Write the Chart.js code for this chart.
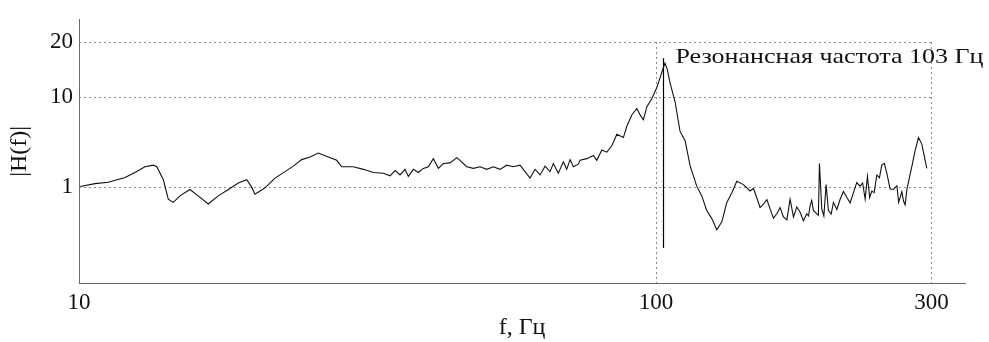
<!DOCTYPE html>
<html>
<head>
<meta charset="utf-8">
<script src="https://cdn.jsdelivr.net/npm/chart.js@4.4.1/dist/chart.umd.min.js"></script>
<style>
    body { margin: 0; background: #fff; }
    #wrap { width: 989px; height: 342px; }
</style>
</head>
<body>
<div id="wrap"><canvas id="hChart"></canvas></div>
<script>
/* ===========================================
   DATA
   =========================================== */

// frequency, Hz
const freq = [
    10.05, 10.66, 11.24, 12.02, 12.50, 13.01, 13.45, 13.64, 14.00, 14.28,
    14.57, 14.96, 15.57, 16.09, 16.75, 17.43, 18.15, 18.88, 19.52, 19.87,
    20.18, 21.01, 21.86, 22.75, 23.51, 24.32, 25.14, 25.98, 27.04, 27.96,
    28.53, 29.88, 31.10, 32.37, 33.69, 34.60, 35.30, 36.00, 36.73, 37.21,
    37.97, 38.73, 39.51, 40.31, 41.11, 41.95, 42.79, 43.95, 45.14, 45.74,
    46.97, 48.23, 49.55, 50.89, 52.24, 53.65, 55.10, 56.57, 58.10, 59.29,
    60.47, 61.70, 62.95, 64.21, 65.51, 66.37, 67.71, 69.06, 70.00, 70.96,
    71.89, 73.33, 73.85, 75.85, 77.87, 78.93, 80.53, 82.16, 83.81, 85.50,
    87.77, 88.97, 90.77, 92.61, 93.83, 95.06, 96.36, 98.29, 100.3, 101.6,
    102.9, 103.6, 104.6, 105.7, 107.9, 110.0, 112.3, 114.5, 117.6, 120.0,
    122.4, 124.9, 127.4, 130.0, 132.6, 135.3, 138.0, 141.7, 145.5, 147.5,
    149.4, 151.4, 153.5, 155.6, 157.6, 159.7, 161.9, 164.0, 166.2, 168.5,
    170.7, 173.0, 175.3, 177.6, 180.0, 182.4, 183.7, 184.9, 186.1, 187.3,
    188.6, 191.1, 191.9, 193.7, 195.3, 197.1, 198.9, 201.1, 202.9, 205.7,
    208.4, 211.2, 214.1, 216.9, 219.8, 222.7, 225.7, 228.0, 230.3, 232.4,
    234.5, 236.5, 238.7, 241.3, 243.8, 246.1, 248.6, 251.1, 254.4, 257.8,
    261.4, 263.2, 264.8, 266.6, 268.3, 270.1, 272.0, 277.4, 281.1, 284.9,
    288.7, 291.4, 294.5
];

// |H(f)|
const magnitude = [
    1.010, 1.086, 1.125, 1.275, 1.445, 1.679, 1.747, 1.679, 1.200, 0.727,
    0.670, 0.792, 0.935, 0.792, 0.642, 0.792, 0.935, 1.105, 1.200, 1.018,
    0.825, 0.975, 1.253, 1.481, 1.704, 2.016, 2.157, 2.384, 2.157, 1.981,
    1.679, 1.679, 1.569, 1.445, 1.420, 1.327, 1.518, 1.360, 1.569, 1.307,
    1.569, 1.445, 1.609, 1.679, 2.067, 1.609, 1.823, 1.855, 2.119, 1.981,
    1.679, 1.609, 1.679, 1.569, 1.679, 1.569, 1.747, 1.679, 1.747, 1.481,
    1.253, 1.569, 1.360, 1.704, 1.481, 1.823, 1.420, 1.902, 1.569, 2.016,
    1.679, 1.792, 1.981, 2.067, 2.244, 1.981, 2.588, 2.443, 2.883, 3.864,
    3.557, 4.755, 6.373, 7.537, 6.373, 5.623, 7.848, 9.680, 11.33, 12.80,
    14.45, 15.36, 14.17, 12.04, 8.890, 4.197, 3.267, 1.734, 1.018, 0.792,
    0.544, 0.441, 0.330, 0.406, 0.670, 0.861, 1.153, 1.059, 0.898, 0.958,
    0.759, 0.587, 0.642, 0.719, 0.567, 0.447, 0.500, 0.587, 0.460, 0.427,
    0.727, 0.460, 0.596, 0.522, 0.417, 0.500, 0.472, 0.617, 0.705, 0.544,
    0.522, 0.480, 1.823, 0.567, 0.472, 1.059, 0.544, 0.496, 0.670, 0.558,
    0.727, 0.887, 0.759, 0.662, 0.861, 1.114, 1.018, 1.105, 0.727, 1.307,
    0.759, 0.898, 0.861, 1.360, 1.262, 1.747, 1.833, 1.420, 0.944, 0.935,
    1.030, 0.670, 0.759, 0.882, 0.699, 0.629, 0.935, 1.679, 2.544, 3.557,
    3.007, 2.244, 1.609
];

// resonance marker: frequency and the span of the vertical line
const resonanceFreq = 103;
const resonanceSpan = [16.3, 0.207];
const resonanceLabel = 'Резонансная частота 103 Гц';

const xTicks = [10, 100, 300];
const yTicks = [1, 10, 20];
const xRange = [10, 343];
const yRange = [0.084, 26.4];

/* ===========================================
   SCALE: log axis, upper decade drawn wider
   =========================================== */

const UPPER_STRETCH = 2.06;

class StretchedLogScale extends Chart.LogarithmicScale {
    static id = 'stretchedLog';
    static defaults = Chart.LogarithmicScale.defaults;

    _t(v) {
        const l = Math.log10(v);
        return l <= 1 ? l : 1 + (l - 1) * UPPER_STRETCH;
    }
    getPixelForValue(value) {
        if (value === undefined || value <= 0) value = this.min;
        const t0 = this._t(this.min), t1 = this._t(this.max);
        return this.getPixelForDecimal((this._t(value) - t0) / (t1 - t0));
    }
    getValueForPixel(pixel) {
        const t0 = this._t(this.min), t1 = this._t(this.max);
        const t = t0 + this.getDecimalForPixel(pixel) * (t1 - t0);
        return Math.pow(10, t <= 1 ? t : 1 + (t - 1) / UPPER_STRETCH);
    }
}
Chart.register(StretchedLogScale);

/* ===========================================
   PLUGINS
   =========================================== */

// dotted grid, boxed between first tick and last tick
const dottedGrid = {
    id: 'dottedGrid',
    beforeDatasetsDraw(chart) {
        const { ctx, scales: { x, y } } = chart;
        const x0 = x.getPixelForValue(xTicks[0]);
        const x1 = x.getPixelForValue(xTicks[xTicks.length - 1]);
        const yTop = y.getPixelForValue(yTicks[yTicks.length - 1]);
        const yBot = chart.chartArea.bottom;
        ctx.save();
        ctx.strokeStyle = '#8c8c8c';
        ctx.lineWidth = 1;
        ctx.setLineDash([2, 3]);
        yTicks.forEach(v => {
            const py = Math.round(y.getPixelForValue(v)) + 0.5;
            ctx.beginPath();
            ctx.moveTo(x0, py);
            ctx.lineTo(x1, py);
            ctx.stroke();
        });
        xTicks.slice(1).forEach(v => {
            const px = Math.round(x.getPixelForValue(v)) + 0.5;
            ctx.beginPath();
            ctx.moveTo(px, yTop);
            ctx.lineTo(px, yBot);
            ctx.stroke();
        });
        ctx.restore();
    }
};

// resonance caption next to the marker line
const resonanceText = {
    id: 'resonanceText',
    afterDatasetsDraw(chart) {
        const { ctx, scales: { x, y } } = chart;
        const left = x.getPixelForValue(resonanceFreq) + 12;
        const base = y.getPixelForValue(yTicks[yTicks.length - 1]) + 21;
        ctx.save();
        ctx.font = '22px "Liberation Serif"';
        ctx.fillStyle = '#111';
        ctx.textBaseline = 'alphabetic';
        const w = ctx.measureText(resonanceLabel).width;
        ctx.translate(left, base);
        ctx.scale(308 / w, 1);
        ctx.fillText(resonanceLabel, 0, 0);
        ctx.restore();
    }
};

/* ===========================================
   CHART
   =========================================== */

const tickFont = { family: '"Liberation Serif", "Times New Roman", serif', size: 23 };
const titleFont = { family: '"Liberation Serif", "Times New Roman", serif', size: 24 };

new Chart(document.getElementById('hChart'), {
    type: 'line',
    data: {
        datasets: [
            {
                data: freq.map((f, i) => ({ x: f, y: magnitude[i] })),
                borderColor: '#111',
                borderWidth: 1.1,
                pointRadius: 0,
                tension: 0,
                fill: false
            },
            {
                data: resonanceSpan.map(v => ({ x: resonanceFreq, y: v })),
                borderColor: '#000',
                borderWidth: 1.2,
                pointRadius: 0,
                fill: false
            }
        ]
    },
    options: {
        responsive: true,
        maintainAspectRatio: false,
        animation: false,
        layout: { padding: { left: 0, right: 24, top: 12, bottom: 0 } },
        plugins: {
            legend: { display: false },
            tooltip: { enabled: false }
        },
        scales: {
            x: {
                type: 'logarithmic',
                min: xRange[0],
                max: xRange[1],
                afterBuildTicks: s => { s.ticks = xTicks.map(v => ({ value: v })); },
                afterFit: s => { s.height = 59; },
                grid: { display: false, drawTicks: false, tickLength: 0 },
                border: { display: true, color: '#6a6a6a', width: 1 },
                ticks: {
                    callback: v => String(v),
                    color: '#111',
                    font: tickFont,
                    padding: 6,
                    maxRotation: 0,
                    autoSkip: false
                },
                title: {
                    display: true,
                    text: 'f, Гц',
                    color: '#111',
                    font: titleFont,
                    padding: { top: 0, bottom: 0 }
                }
            },
            y: {
                type: 'stretchedLog',
                min: yRange[0],
                max: yRange[1],
                afterBuildTicks: s => { s.ticks = yTicks.map(v => ({ value: v })); },
                afterFit: s => { s.width = 79; },
                grid: { display: false, drawTicks: false, tickLength: 0 },
                border: { display: true, color: '#6a6a6a', width: 1 },
                ticks: {
                    callback: v => String(v),
                    color: '#111',
                    font: tickFont,
                    padding: 6,
                    autoSkip: false
                },
                title: {
                    display: true,
                    text: '|H(f)|',
                    color: '#111',
                    font: titleFont,
                    padding: { top: 5, bottom: 0 }
                }
            }
        }
    },
    plugins: [dottedGrid, resonanceText]
});
</script>
</body>
</html>
